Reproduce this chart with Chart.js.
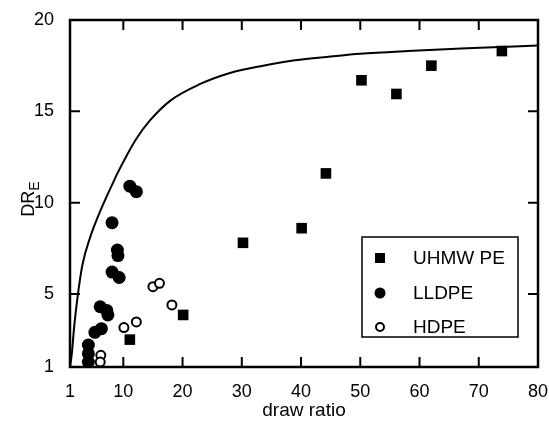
<!DOCTYPE html>
<html>
<head>
<meta charset="utf-8">
<script src="https://cdn.jsdelivr.net/npm/chart.js@4"></script>
<style>
  html, body { margin: 0; padding: 0; background: #fff; }
  #wrap { width: 549px; height: 426px; position: relative; }
</style>
</head>
<body>
<div id="wrap"><canvas id="drChart"></canvas></div>
<script>
// UHMW PE (filled squares)
var uhmwX = [11.1, 20.1, 30.2, 40.1, 44.2, 50.2, 56.1, 62.0, 73.9];
var uhmwY = [2.5, 3.85, 7.8, 8.6, 11.6, 16.7, 15.95, 17.5, 18.3];
// LLDPE (filled circles)
var lldpeX = [11.1, 12.2, 8.1, 9.0, 9.1, 8.1, 9.3, 6.1, 7.2, 7.4, 5.2, 6.3, 4.1, 4.1, 4.1];
var lldpeY = [10.9, 10.6, 8.9, 7.4, 7.1, 6.2, 5.9, 4.3, 4.1, 3.85, 2.9, 3.1, 2.2, 1.73, 1.27];
// HDPE (open circles)
var hdpeX = [6.2, 6.1, 10.1, 12.2, 15.0, 16.1, 18.2];
var hdpeY = [1.64, 1.27, 3.16, 3.47, 5.4, 5.58, 4.4];
// theoretical curve
var curveX = [1, 1.3, 1.7, 2.3, 3.1, 4.4, 5.8, 7, 8, 9, 10.6, 12.2, 14.5, 18, 23, 28, 33.6, 39, 45, 50, 58, 68, 80];
var curveY = [1, 1.7, 3.2, 4.9, 6.6, 8.1, 9.3, 10.2, 10.9, 11.6, 12.6, 13.5, 14.5, 15.6, 16.5, 17.1, 17.5, 17.8, 18.0, 18.15, 18.3, 18.45, 18.6];

var xTicks = [1, 10, 20, 30, 40, 50, 60, 70, 80];
var yTicks = [1, 5, 10, 15, 20];
var legendLabels = ['UHMW PE', 'LLDPE', 'HDPE'];

function pts(xs, ys) {
    return xs.map(function (x, i) { return { x: x, y: ys[i] }; });
}

var FONT = 'Liberation Sans, Arial, Helvetica, sans-serif';

// inward ticks on all four sides, plus frame, y title and legend box
var framePlugin = {
    id: 'frame',
    afterDraw: function (chart) {
        var c = chart.ctx, a = chart.chartArea;
        var xs = chart.scales.x, ys = chart.scales.y;
        var tl = 10;
        c.save();
        c.strokeStyle = '#000';
        c.lineWidth = 2.5;
        c.strokeRect(a.left, a.top, a.right - a.left, a.bottom - a.top);
        c.lineWidth = 2;
        c.beginPath();
        xTicks.forEach(function (v) {
            var px = xs.getPixelForValue(v);
            c.moveTo(px, a.bottom); c.lineTo(px, a.bottom - tl);
            c.moveTo(px, a.top); c.lineTo(px, a.top + tl);
        });
        yTicks.forEach(function (v) {
            var py = ys.getPixelForValue(v);
            c.moveTo(a.left, py); c.lineTo(a.left + tl, py);
            c.moveTo(a.right, py); c.lineTo(a.right - tl, py);
        });
        c.stroke();

        // y title: DR with subscript E
        c.translate(29, 199);
        c.rotate(-Math.PI / 2);
        c.fillStyle = '#000';
        c.textBaseline = 'middle';
        c.font = '18px ' + FONT;
        var w1 = c.measureText('DR').width;
        c.font = '14px ' + FONT;
        var w2 = c.measureText('E').width;
        var x0 = -(w1 + w2) / 2;
        c.font = '18px ' + FONT;
        c.fillText('DR', x0, 0);
        c.font = '14px ' + FONT;
        c.fillText('E', x0 + w1, 6);
        c.restore();

        // legend
        c.save();
        c.strokeStyle = '#000';
        c.lineWidth = 1.5;
        c.strokeRect(362, 237, 156, 100);
        var rows = [258, 293, 327];
        c.fillStyle = '#000';
        c.fillRect(380 - 5, rows[0] - 5, 10, 10);
        c.beginPath(); c.arc(380, rows[1], 5.5, 0, Math.PI * 2); c.fill();
        c.beginPath(); c.arc(380, rows[2], 4, 0, Math.PI * 2);
        c.lineWidth = 2; c.stroke();
        c.font = '19px ' + FONT;
        c.textBaseline = 'middle';
        legendLabels.forEach(function (t, i) { c.fillText(t, 413, rows[i] + 1); });
        c.restore();
    }
};

var ctx = document.getElementById('drChart').getContext('2d');
var chart = new Chart(ctx, {
    type: 'scatter',
    data: {
        datasets: [{
            type: 'line',
            data: pts(curveX, curveY),
            borderColor: '#000',
            borderWidth: 2,
            pointRadius: 0,
            fill: false,
            cubicInterpolationMode: 'monotone'
        }, {
            data: pts(uhmwX, uhmwY),
            pointStyle: 'rect',
            pointRadius: 7.5,
            backgroundColor: '#000',
            borderColor: '#000',
            borderWidth: 0
        }, {
            data: pts(lldpeX, lldpeY),
            pointStyle: 'circle',
            pointRadius: 6.5,
            backgroundColor: '#000',
            borderColor: '#000',
            borderWidth: 0
        }, {
            data: pts(hdpeX, hdpeY),
            pointStyle: 'circle',
            pointRadius: 4.5,
            backgroundColor: '#fff',
            borderColor: '#000',
            borderWidth: 2
        }]
    },
    options: {
        responsive: true,
        maintainAspectRatio: false,
        animation: false,
        layout: { padding: { left: 0, right: 11, top: 20, bottom: 0 } },
        plugins: { legend: { display: false }, tooltip: { enabled: false } },
        scales: {
            x: {
                type: 'linear', min: 1, max: 80,
                grid: { display: false, drawTicks: false },
                border: { display: false },
                afterBuildTicks: function (s) { s.ticks = xTicks.map(function (v) { return { value: v }; }); },
                afterFit: function (s) { s.height = 59; s.paddingLeft = 0; s.paddingRight = 0; },
                ticks: { color: '#000', padding: 14, maxRotation: 0, font: { size: 18, family: FONT } },
                title: { display: true, text: 'draw ratio', color: '#000', padding: { top: 1 }, font: { size: 19, family: FONT } }
            },
            y: {
                type: 'linear', min: 1, max: 20,
                grid: { display: false, drawTicks: false },
                border: { display: false },
                afterBuildTicks: function (s) { s.ticks = yTicks.map(function (v) { return { value: v }; }); },
                afterFit: function (s) { s.width = 70; s.paddingTop = 0; s.paddingBottom = 0; },
                ticks: { color: '#000', padding: 16, font: { size: 18, family: FONT } }
            }
        }
    },
    plugins: [framePlugin]
});
</script>
</body>
</html>
